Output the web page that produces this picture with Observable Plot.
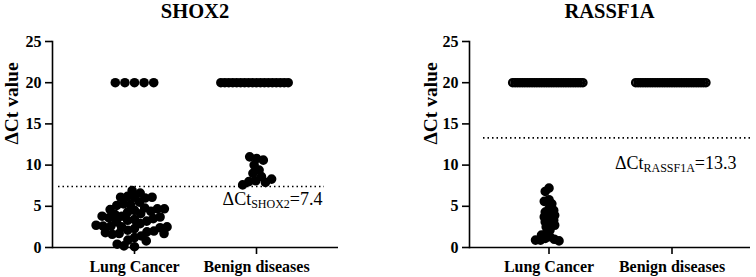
<!DOCTYPE html>
<html><head><meta charset="utf-8">
<script src="https://cdn.jsdelivr.net/npm/d3@7"></script>
<script src="https://cdn.jsdelivr.net/npm/@observablehq/plot@0.6"></script>
<style>
body{margin:0;background:#fff;}
#wrap{display:flex;width:756px;height:277px;overflow:hidden;}
.panel{width:378px;height:277px;position:relative;}
.title{height:22px;line-height:16px;font:bold 20.5px "Liberation Serif","Times New Roman",serif;text-align:center;box-sizing:border-box;color:#000;}
.layer{position:absolute;left:0;top:22px;}
svg{display:block;}
</style></head><body><div id="wrap"></div>
<script>
const groups = ["Lung Cancer", "Benign diseases"];
const yTicks = [0, 5, 10, 15, 20, 25];
const yLabel = "ΔCt value";

// SHOX2 ΔCt values
const shox2Lung = [4.5, 4.3, 3.4, 2.3, 1.2, 2.1, 6.1, 3.3, 1.4, 5.2, 4.1, 2.9, 1.9, 0.9, 0.1, 4.8, 3.8, 2.5, 6.2, 0.8,
  1.7, 3.2, 0.2, 6.6, 5.5, 4.4, 3.1, 2.0, 6.9, 5.3, 4.0, 2.6, 0.4, 6.0, 4.7, 3.5, 1.6, 6.1, 4.6, 2.4,
  1.8, 3.7, 2.5, 1.7, 6.1, 4.7, 3.6, 2.6, 3.8, 2.7, 5.1,
  20, 20, 20, 20, 20];
const shox2Benign = [10.8, 11.0, 10.6, 10.0, 9.4, 9.0, 8.6, 8.1, 8.0, 7.9, 7.6, 8.3,
  20, 20, 20, 20, 20, 20, 20, 20, 20, 20, 20, 20, 20, 20, 20, 20, 20, 20];
const shox2Cutoff = 7.4;

// RASSF1A ΔCt values
const rassf1aLung = [7.2, 6.8, 5.8, 5.6, 5.3, 4.7, 4.3, 4.1, 3.9, 3.5, 3.1, 2.9, 2.5, 2.1, 1.7, 1.3, 1.1, 1.0, 0.9, 0.8,
  3.7, 4.5, 2.7, 3.3, 1.5, 0.9,
  20, 20, 20, 20, 20, 20, 20, 20, 20, 20, 20, 20, 20, 20, 20, 20, 20, 20, 20, 20,
  20, 20, 20, 20, 20, 20, 20, 20, 20, 20];
const rassf1aBenign = [20, 20, 20, 20, 20, 20, 20, 20, 20, 20, 20, 20, 20, 20, 20, 20, 20, 20, 20, 20,
  20, 20, 20, 20, 20, 20, 20, 20, 20, 20];
const rassf1aCutoff = 13.3;

const FONT = '"Liberation Serif","Times New Roman",serif';
const R = 4.8; // visual dot radius

function makePanel(cfg) {
  const div = document.createElement("div");
  div.className = "panel";
  const t = document.createElement("div");
  t.className = "title";
  t.style.paddingLeft = cfg.mL + "px";
  t.style.paddingRight = cfg.mR + "px";
  t.textContent = cfg.title;
  div.appendChild(t);

  const common = {
    width: 378, height: 255,
    marginLeft: cfg.mL, marginRight: cfg.mR, marginTop: 19, marginBottom: 30,
    style: {fontFamily: FONT, fontWeight: "bold", fontSize: "16px", color: "black", background: "transparent"}
  };

  // Layer 1: axes, cut-off line and annotation
  const annText = "ΔCt" + cfg.sub + "=" + cfg.cutoff;
  const axes = Plot.plot({
    ...common,
    y: {domain: [0, 25]},
    x: {type: "band", domain: groups, paddingInner: 0, paddingOuter: cfg.po},
    marks: [
      Plot.frame({anchor: "left", stroke: "black", strokeWidth: 1.6}),
      Plot.axisY({ticks: yTicks, tickSize: 7, tickPadding: 4, strokeWidth: 1.6, label: null, fontSize: 16}),
      Plot.ruleY([0], {stroke: "black", strokeWidth: 1.6}),
      Plot.axisX({anchor: "bottom", label: null, tickSize: 7, tickPadding: 6, strokeWidth: 1.6, fontSize: 16}),
      Plot.text([yLabel], {frameAnchor: "left", rotate: -90, dx: cfg.labelDx, fontSize: 19.5, fontWeight: "bold", text: d => d}),
      Plot.ruleY([cfg.cutoff], {stroke: "black", strokeWidth: 1.6, strokeDasharray: "1.5,3", insetLeft: cfg.insetL, insetRight: cfg.insetR}),
      Plot.text([cfg.cutoff], {y: d => d, text: () => annText, frameAnchor: "right", textAnchor: "end",
        dx: cfg.annDx, dy: cfg.annDy, fontSize: 18, fontWeight: "normal"})
    ]
  });
  for (const el of axes.querySelectorAll("text")) {
    if (el.textContent === annText) {
      el.textContent = "";
      const ns = "http://www.w3.org/2000/svg";
      const a = document.createElementNS(ns, "tspan"); a.textContent = "ΔCt";
      const b = document.createElementNS(ns, "tspan"); b.textContent = cfg.sub; b.setAttribute("font-size", "12"); b.setAttribute("dy", "3");
      const c = document.createElementNS(ns, "tspan"); c.textContent = "=" + cfg.cutoff; c.setAttribute("dy", "-3");
      el.append(a, b, c);
    }
  }

  // Layer 2: the dots, arranged per group with the dodge transform
  const data = [
    ...cfg.lung.map(v => ({group: groups[0], v, kind: v >= 20 ? "row" : "cluster"})),
    ...cfg.benign.map(v => ({group: groups[1], v, kind: v >= 20 ? "row" : "cluster"}))
  ];
  const dotMarks = [];
  for (const g of groups) {
    for (const kind of ["cluster", "row"]) {
      const subset = data.filter(d => d.group === g && d.kind === kind);
      if (!subset.length) continue;
      const rl = cfg.layout[g + "|" + kind];
      dotMarks.push(Plot.dot(subset, Plot.dodgeX({anchor: "middle", padding: 0}, {
        fx: "group", y: "v", r: rl, fill: "black", stroke: "black", strokeWidth: 2 * (R - rl)
      })));
    }
  }
  const dots = Plot.plot({
    ...common,
    y: {domain: [0, 25], axis: null},
    fx: {domain: groups, paddingInner: 0, paddingOuter: cfg.po, axis: null},
    marks: dotMarks
  });

  const l1 = document.createElement("div"); l1.className = "layer"; l1.appendChild(axes);
  const l2 = document.createElement("div"); l2.className = "layer"; l2.appendChild(dots);
  div.append(l1, l2);
  return div;
}

const wrap = document.getElementById("wrap");
wrap.appendChild(makePanel({
  title: "SHOX2", sub: "SHOX2", cutoff: shox2Cutoff, lung: shox2Lung, benign: shox2Benign,
  mL: 52, mR: 40, po: 0.172, labelDx: -41, insetL: 6, insetR: 14, annDx: -16, annDy: 13,
  layout: {"Lung Cancer|cluster": 3.5, "Lung Cancer|row": 4.8, "Benign diseases|cluster": 3.5, "Benign diseases|row": 1.98}
}));
wrap.appendChild(makePanel({
  title: "RASSF1A", sub: "RASSF1A", cutoff: rassf1aCutoff, lung: rassf1aLung, benign: rassf1aBenign,
  mL: 91, mR: 6, po: 0.142, labelDx: -39, insetL: 14, insetR: 0, annDx: -14, annDy: 25,
  layout: {"Lung Cancer|cluster": 2.5, "Lung Cancer|row": 1.21, "Benign diseases|row": 1.21}
}));
</script></body></html>
